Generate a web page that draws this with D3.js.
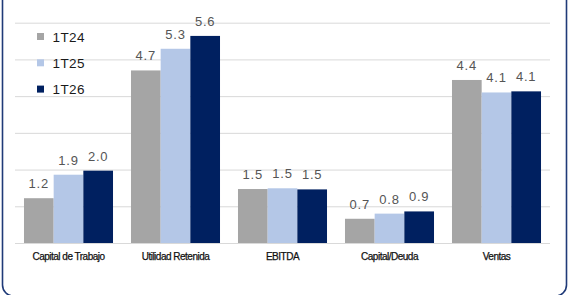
<!DOCTYPE html>
<html>
<head>
<meta charset="utf-8">
<script src="https://cdn.jsdelivr.net/npm/d3@7"></script>
<style>
  body { margin: 0; background: #fff; }
  svg { display: block; font-family: "Liberation Sans", Arial, sans-serif; }
</style>
</head>
<body>
<div id="chart"></div>
<script>
const categories = ["Capital de Trabajo", "Utilidad Retenida", "EBITDA", "Capital/Deuda", "Ventas"];
const seriesNames = ["1T24", "1T25", "1T26"];
const values1T24 = [1.22, 4.70, 1.47, 0.66, 4.44];
const values1T25 = [1.86, 5.29, 1.49, 0.80, 4.10];
const values1T26 = [1.97, 5.64, 1.46, 0.86, 4.13];
const yTicks = [0, 1, 2, 3, 4, 5, 6];
const colors = ["#a5a5a5", "#b4c7e7", "#002060"];

const allValues = [values1T24, values1T25, values1T26];

const width = 568;
const height = 295;

const data = categories.map((c, i) => ({
  category: c,
  values: seriesNames.map((s, j) => ({ key: s, value: allValues[j][i] }))
}));

const svg = d3.select("#chart")
  .append("svg")
    .attr("width", width)
    .attr("height", height);

// frame (top edge runs off the picture)
svg.append("rect")
  .attr("x", 2.5)
  .attr("y", -20)
  .attr("width", 564)
  .attr("height", 316)
  .attr("rx", 11)
  .attr("fill", "none")
  .attr("stroke", "#1f3a78")
  .attr("stroke-width", 1.6);

const xScale = d3.scaleBand()
  .domain(categories)
  .range([15, 550])
  .paddingInner(0.168)
  .paddingOuter(0.084);

const xInner = d3.scaleBand()
  .domain(seriesNames)
  .range([0, xScale.bandwidth()]);

const yScale = d3.scaleLinear()
  .domain([0, 6])
  .range([243, 22.7]);

// gridlines
svg.append("g")
  .call(d3.axisLeft(yScale).tickValues(yTicks).tickSize(-(550 - 15)).tickFormat(""))
  .attr("transform", "translate(15,0)")
  .call(g => g.select(".domain").remove())
  .call(g => g.selectAll(".tick line").attr("stroke", "#d9d9d9").attr("stroke-width", 1));

const groups = svg.append("g")
  .selectAll("g")
  .data(data)
  .join("g")
    .attr("transform", d => `translate(${xScale(d.category)},0)`);

groups.selectAll("rect")
  .data(d => d.values)
  .join("rect")
    .attr("x", d => xInner(d.key))
    .attr("y", d => yScale(d.value))
    .attr("width", xInner.bandwidth())
    .attr("height", d => yScale(0) - yScale(d.value))
    .attr("fill", (d, i) => colors[i]);

groups.selectAll("text")
  .data(d => d.values)
  .join("text")
    .attr("x", d => xInner(d.key) + xInner.bandwidth() / 2)
    .attr("y", d => yScale(d.value) - 10)
    .attr("text-anchor", "middle")
    .attr("font-size", 13)
    .attr("letter-spacing", 0.8)
    .attr("fill", "#555555")
    .text(d => d3.format(".1f")(d.value));

// category axis
svg.append("g")
  .attr("transform", "translate(0,243)")
  .call(d3.axisBottom(xScale).tickSize(0).tickPadding(10))
  .call(g => g.select(".domain").remove())
  .call(g => g.selectAll(".tick text")
    .attr("font-size", 10)
    .attr("letter-spacing", -0.5)
    .attr("font-family", "'Liberation Sans', Arial, sans-serif")
    .attr("stroke", "#111")
    .attr("stroke-width", 0.25)
    .attr("fill", "#111"));

// legend
const legend = svg.append("g")
  .selectAll("g")
  .data(seriesNames)
  .join("g")
    .attr("transform", (d, i) => `translate(37,${36.5 + i * 26.3})`);

legend.append("rect")
  .attr("x", 0)
  .attr("y", -3.5)
  .attr("width", 7)
  .attr("height", 7)
  .attr("fill", (d, i) => colors[i]);

legend.append("text")
  .attr("x", 15.5)
  .attr("y", 5)
  .attr("font-size", 13.5)
  .attr("letter-spacing", 0.4)
  .attr("fill", "#1a1a1a")
  .text(d => d);
</script>
</body>
</html>
